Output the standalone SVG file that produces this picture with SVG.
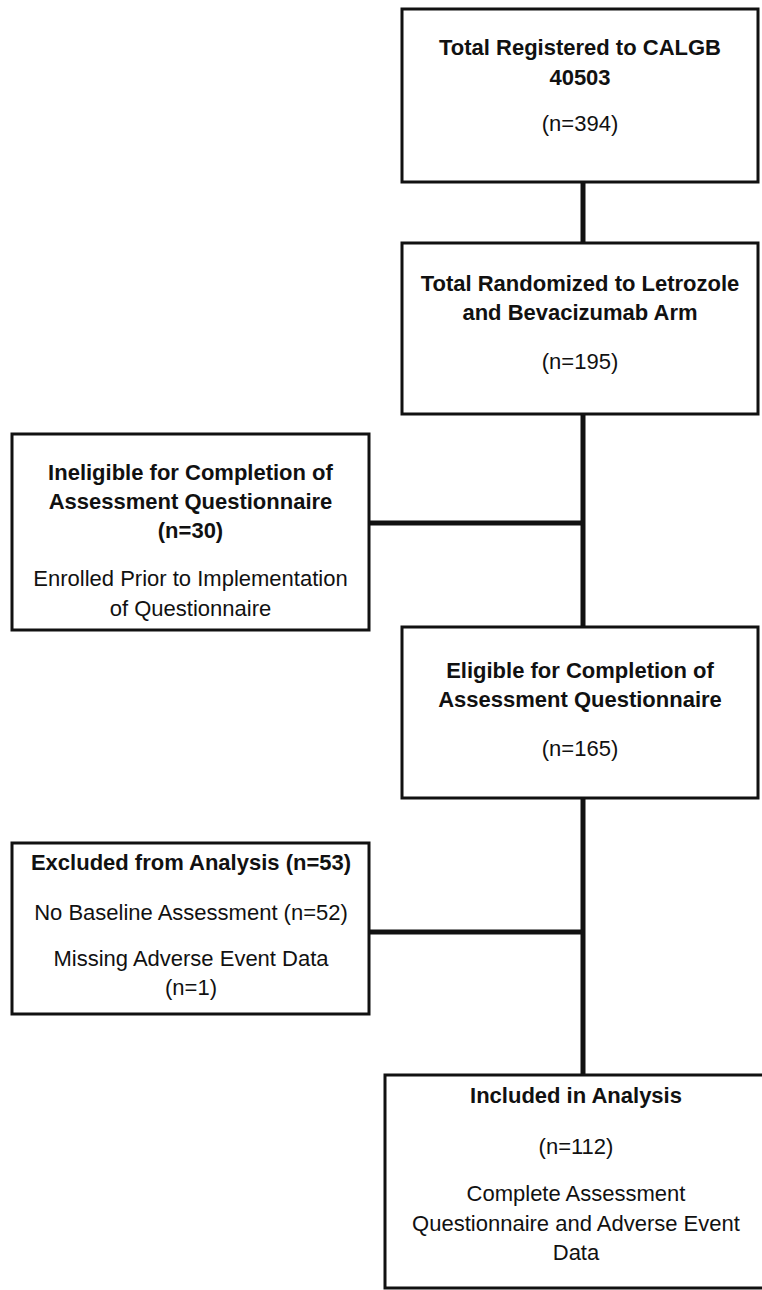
<svg xmlns="http://www.w3.org/2000/svg" width="762" height="1290" viewBox="0 0 762 1290">
<style>
.box{fill:#fff;stroke:#111;stroke-width:3}
.c{stroke:#111;stroke-width:5;fill:none}
text{font-family:"Liberation Sans",Arial,sans-serif;font-size:22px;fill:#111;text-anchor:middle}
.b{font-weight:bold}
</style>
<rect width="762" height="1290" fill="#fff"/>
<g id="connectors">
<line class="c" x1="583" y1="182" x2="583" y2="243"/>
<line class="c" x1="583" y1="414" x2="583" y2="627"/>
<line class="c" x1="583" y1="798" x2="583" y2="1075"/>
<line class="c" x1="369" y1="523" x2="583" y2="523"/>
<line class="c" x1="369" y1="932" x2="583" y2="932"/>
</g>
<g id="registered">
<rect class="box" x="402" y="9" width="356" height="173"/>
<text class="b" x="580" y="55">Total Registered to CALGB</text>
<text class="b" x="580" y="85">40503</text>
<text x="580" y="131">(n=394)</text>
</g>
<g id="randomized">
<rect class="box" x="402" y="243" width="356" height="171"/>
<text class="b" x="580" y="291">Total Randomized to Letrozole</text>
<text class="b" x="580" y="320">and Bevacizumab Arm</text>
<text x="580" y="369">(n=195)</text>
</g>
<g id="ineligible">
<rect class="box" x="12" y="434" width="357" height="196"/>
<text class="b" x="190.5" y="480">Ineligible for Completion of</text>
<text class="b" x="190.5" y="509">Assessment Questionnaire</text>
<text class="b" x="190.5" y="538">(n=30)</text>
<text x="190.5" y="586">Enrolled Prior to Implementation</text>
<text x="190.5" y="616">of Questionnaire</text>
</g>
<g id="eligible">
<rect class="box" x="402" y="627" width="356" height="171"/>
<text class="b" x="580" y="678">Eligible for Completion of</text>
<text class="b" x="580" y="707">Assessment Questionnaire</text>
<text x="580" y="756">(n=165)</text>
</g>
<g id="excluded">
<rect class="box" x="12" y="843" width="357" height="171"/>
<text class="b" x="191" y="870">Excluded from Analysis (n=53)</text>
<text x="191" y="920">No Baseline Assessment (n=52)</text>
<text x="191" y="966">Missing Adverse Event Data</text>
<text x="191" y="995">(n=1)</text>
</g>
<g id="included">
<rect class="box" x="385" y="1075" width="382" height="213"/>
<text class="b" x="576" y="1103">Included in Analysis</text>
<text x="576" y="1154">(n=112)</text>
<text x="576" y="1201">Complete Assessment</text>
<text x="576" y="1231">Questionnaire and Adverse Event</text>
<text x="576" y="1260">Data</text>
</g>
</svg>
